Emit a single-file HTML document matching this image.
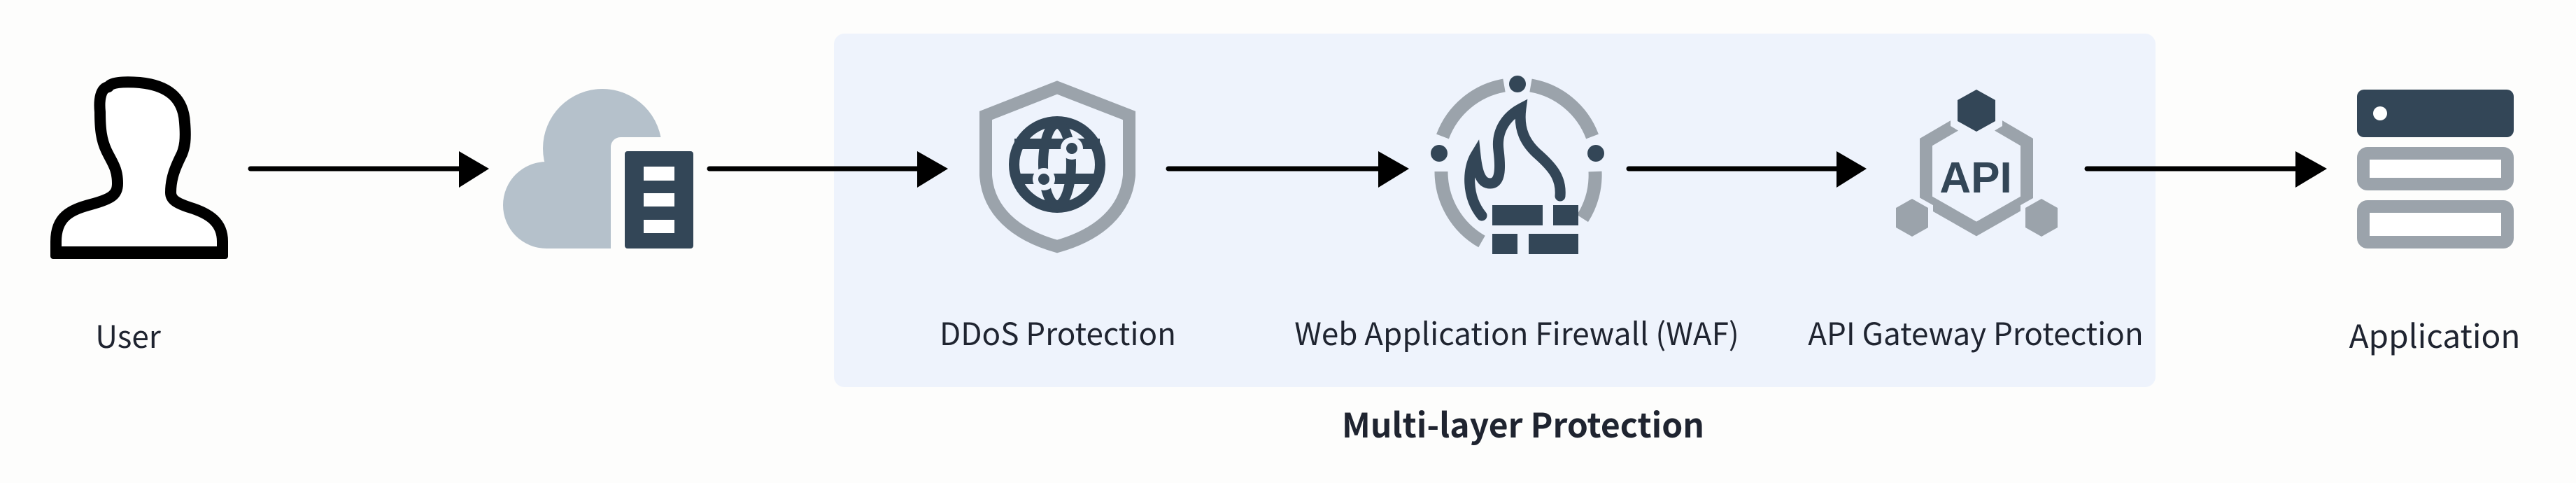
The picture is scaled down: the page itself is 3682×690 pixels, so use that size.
<!DOCTYPE html>
<html><head><meta charset="utf-8"><style>
html,body{margin:0;padding:0;background:#fdfdfc;}
svg{display:block}
text{font-family:"Noto Sans CJK SC","Liberation Sans",sans-serif;fill:#1f2430}
</style></head><body>
<svg width="3682" height="690" viewBox="0 0 3682 690" xmlns="http://www.w3.org/2000/svg">
<rect width="3682" height="690" fill="#fdfdfc"/>
<rect x="1192" y="48" width="1889" height="505" rx="15" fill="#eef3fc"/>

<!-- User -->
<path d="M80 362 L80 345 C80 310 100 300 130 292 C160 284 168 278 168 262 C168 240 160 232 152 215 C145 200 143 185 143 160 C141 140 145 128 152 125 L155 124 C158 118 175 116 200 118 C240 122 262 140 264 175 C266 200 264 210 260 220 C250 240 244 255 244 275 C244 285 252 290 270 296 C300 305 318 318 318 345 L318 362 Z" fill="#fff" stroke="#000" stroke-width="16" stroke-linejoin="round"/>
<rect x="72" y="352" width="254" height="18" rx="4" fill="#000"/>
<text x="183" y="497" font-size="44" text-anchor="middle">User</text>

<!-- arrow 1 -->
<line x1="358" y1="241" x2="660" y2="241" stroke="#000" stroke-width="7" stroke-linecap="round"/>
<polygon points="656,216 699,241 656,268" fill="#000"/>

<!-- Cloud -->
<g fill="#b5c1cb">
<circle cx="861" cy="212" r="85"/>
<circle cx="781" cy="293" r="62"/>
<rect x="781" y="230" width="120" height="125"/>
</g>
<rect x="873" y="196" width="138" height="175" rx="14" fill="#fdfdfc"/>
<rect x="893" y="216" width="98" height="139" rx="4" fill="#334657"/>
<rect x="920" y="238" width="44" height="20" fill="#fff"/>
<rect x="920" y="276" width="44" height="19" fill="#fff"/>
<rect x="920" y="314" width="44" height="19" fill="#fff"/>

<!-- arrow 2 -->
<line x1="1014" y1="241" x2="1315" y2="241" stroke="#000" stroke-width="7" stroke-linecap="round"/>
<polygon points="1311,216 1355,241 1311,268" fill="#000"/>

<!-- Shield -->
<path d="M1511 125 L1409 165 L1409 250 C1412 300 1450 335 1511 352 C1572 335 1610 300 1614 250 L1614 165 Z" fill="none" stroke="#9ba3ab" stroke-width="18" stroke-linejoin="miter"/>
<circle cx="1511" cy="235" r="69" fill="#334657"/>
<circle cx="1511" cy="235" r="54" fill="#eef3fc"/>
<rect x="1450" y="198" width="122" height="15" fill="#334657"/>
<rect x="1450" y="248" width="122" height="15" fill="#334657"/>
<ellipse cx="1511" cy="235" rx="20" ry="58" fill="none" stroke="#334657" stroke-width="14"/>
<circle cx="1532" cy="212" r="16" fill="#eef3fc"/><circle cx="1532" cy="212" r="8" fill="#334657"/>
<circle cx="1492" cy="256" r="16" fill="#eef3fc"/><circle cx="1492" cy="256" r="8" fill="#334657"/>
<text x="1512" y="493" font-size="44" text-anchor="middle">DDoS Protection</text>

<!-- arrow 3 -->
<line x1="1670" y1="241" x2="1974" y2="241" stroke="#000" stroke-width="7" stroke-linecap="round"/>
<polygon points="1970,216 2014,241 1970,268" fill="#000"/>

<!-- WAF -->
<g fill="none" stroke="#9ba3ab" stroke-width="19">
<path d="M2150 122 A115 115 0 0 0 2062 195"/>
<path d="M2188 122 A115 115 0 0 1 2276 195"/>
<path d="M2060 245 A115 115 0 0 0 2118 345"/>
<path d="M2280 245 A115 115 0 0 1 2262 312"/>
</g>
<circle cx="2169" cy="120" r="12" fill="#334657"/>
<circle cx="2057" cy="219" r="12" fill="#334657"/>
<circle cx="2281" cy="219" r="12" fill="#334657"/>
<path d="M2118 308 C2095 280 2098 240 2109 222 C2112 250 2118 262 2130 262 C2145 262 2145 240 2142 215 C2138 185 2155 165 2174 155 C2170 185 2180 205 2200 222 C2220 240 2232 255 2230 280" fill="none" stroke="#334657" stroke-width="15" stroke-linecap="round"/>
<g fill="#334657">
<rect x="2133" y="293" width="72" height="29"/>
<rect x="2220" y="293" width="36" height="29"/>
<rect x="2133" y="334" width="36" height="29"/>
<rect x="2185" y="334" width="71" height="29"/>
</g>
<text x="2168" y="493" font-size="44" text-anchor="middle">Web Application Firewall (WAF)</text>

<!-- arrow 4 -->
<line x1="2328" y1="241" x2="2629" y2="241" stroke="#000" stroke-width="7" stroke-linecap="round"/>
<polygon points="2625,216 2668,241 2625,268" fill="#000"/>

<!-- API -->
<polygon points="2825,161 2897,203 2897,286 2825,327 2753,286 2753,203" fill="none" stroke="#9ba3ab" stroke-width="18"/>
<polygon points="2825,122 2855,140 2855,176 2825,194 2795,176 2795,140" fill="#334657" stroke="#eef3fc" stroke-width="14"/>
<polygon points="2825,128 2852,143 2852,173 2825,188 2798,173 2798,143" fill="#334657"/>
<polygon points="2733,282 2758,296 2758,326 2733,340 2708,326 2708,296" fill="#9ba3ab" stroke="#eef3fc" stroke-width="10"/>
<polygon points="2918,282 2943,296 2943,326 2918,340 2893,326 2893,296" fill="#9ba3ab" stroke="#eef3fc" stroke-width="10"/>
<polygon points="2733,284 2756,297 2756,325 2733,338 2710,325 2710,297" fill="#9ba3ab"/>
<polygon points="2918,284 2941,297 2941,325 2918,338 2895,325 2895,297" fill="#9ba3ab"/>
<text x="2824" y="275" font-size="62" font-weight="bold" text-anchor="middle" style="font-family:'Liberation Sans',sans-serif;fill:#334657">API</text>
<text x="2824" y="493" font-size="44" text-anchor="middle">API Gateway Protection</text>

<!-- arrow 5 -->
<line x1="2983" y1="241" x2="3285" y2="241" stroke="#000" stroke-width="7" stroke-linecap="round"/>
<polygon points="3281,216 3326,241 3281,268" fill="#000"/>

<!-- Application server -->
<rect x="3369" y="128" width="224" height="68" rx="10" fill="#334657"/>
<circle cx="3402" cy="162" r="10" fill="#fff"/>
<rect x="3378" y="219" width="206" height="44" rx="6" fill="#fff" stroke="#9ba3ab" stroke-width="18"/>
<rect x="3378" y="295" width="206" height="51" rx="6" fill="#fff" stroke="#9ba3ab" stroke-width="18"/>
<text x="3480" y="497" font-size="46" text-anchor="middle">Application</text>

<text x="2177" y="625" font-size="48" font-weight="bold" text-anchor="middle">Multi-layer Protection</text>
</svg>
</body></html>
